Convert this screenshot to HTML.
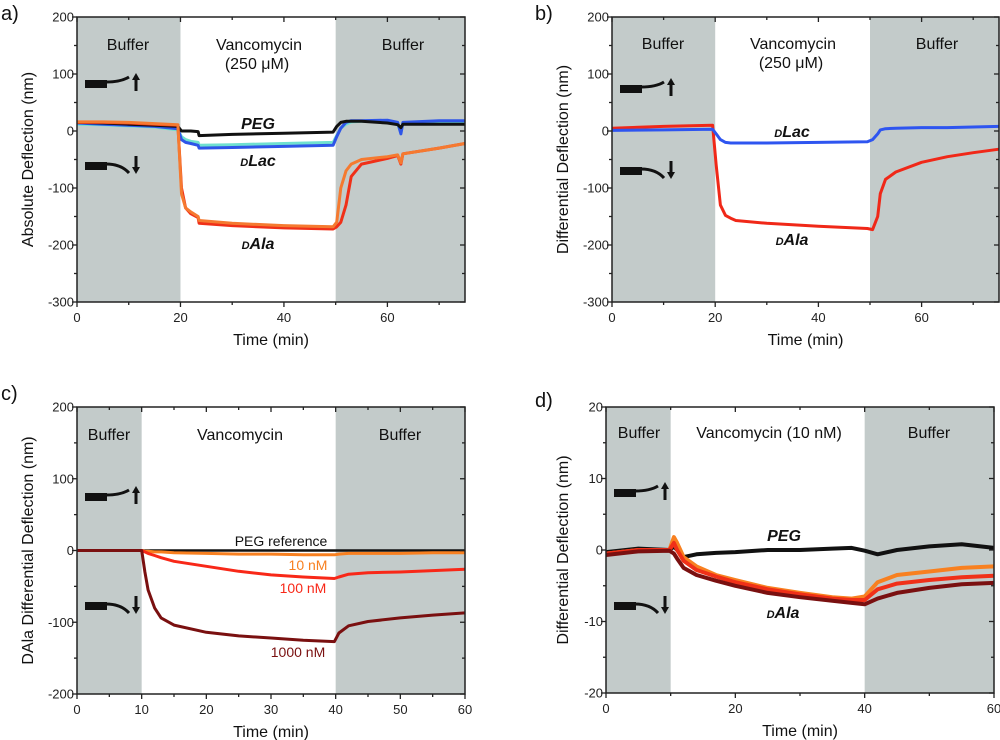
<!DOCTYPE html>
<html><head><meta charset="utf-8"><style>
html,body{margin:0;padding:0;background:#fff}
svg{display:block;font-family:"Liberation Sans",sans-serif}
</style></head><body>
<svg id="fig" width="1000" height="740" viewBox="0 0 1000 740"></svg>
<script>
// ---- data arrays ----
const aTimes=[0,5,10,15,19.5,20.2,21,22,23.4,23.6,30,40,49.5,50.2,51,52,53,55,60,62,62.6,63,70,75];
const aPEG=[15,14,12,10,8,0,0,0,-1,-8,-6,-4,-2,8,15,17,17,17,14,11,6,12,12,12];
const aLacBlue=[14,12,10,8,4,-15,-20,-22,-25,-30,-29,-27,-25,-10,5,15,18,18,19,15,-5,15,18,18];
const aLacCyan=[12,11,9,7,2,-10,-15,-18,-20,-25,-24,-22,-20,-8,5,12,16,17,17,12,-3,14,15,15];
const aAlaRed=[15,15,14,12,10,-100,-135,-145,-152,-162,-166,-170,-172,-168,-160,-130,-80,-58,-48,-43,-58,-40,-30,-22];
const aAlaOrange=[16,16,15,13,11,-110,-135,-142,-150,-157,-162,-166,-168,-160,-100,-70,-58,-50,-45,-42,-56,-40,-30,-22];
const bTimes=[0,10,19.5,20.2,21,22,23,24,30,40,49.5,50.5,51.5,52,53,55,60,65,70,75];
const bLac=[1,2,3,-5,-15,-20,-21,-21,-21,-20,-19,-15,-5,2,4,5,6,6,7,8];
const bAla=[5,8,10,-60,-130,-148,-153,-157,-162,-167,-171,-173,-150,-110,-85,-72,-55,-45,-38,-32];
const cTimes=[0,5,9.5,10,10.5,11,12,13,15,20,25,30,35,39.8,40.5,42,45,50,55,60];
const cPEG=[0,0,0,0,0,0,0,0,0,0,0,0,0,0,0,0,0,0,0,0];
const c10=[0,0,0,0,-1,-1,-2,-2,-3,-4,-5,-5,-6,-6,-5,-4,-4,-4,-3,-3];
const c100=[0,0,0,0,-2,-4,-7,-10,-15,-22,-29,-34,-37,-39,-37,-33,-31,-30,-28,-26];
const c1000=[0,0,0,0,-30,-55,-80,-94,-104,-114,-119,-122,-125,-127,-115,-105,-99,-94,-90,-87];
const dTimes=[0,5,9.8,10.5,11,12,14,17,20,25,30,35,38,40,42,45,50,55,60];
const dPEG=[-0.3,0.2,0,0.5,0,-1,-0.6,-0.4,-0.3,0,0,0.2,0.3,-0.1,-0.6,0,0.5,0.8,0.3];
const dOrange=[-0.5,0,0,1.8,1,-1,-2.3,-3.5,-4.2,-5.3,-6,-6.6,-6.8,-6.5,-4.5,-3.5,-3,-2.5,-2.3];
const dRed=[-0.5,0,0,1.0,0,-1.5,-2.8,-3.7,-4.5,-5.5,-6.2,-6.8,-7,-7,-5.5,-4.7,-4.2,-3.8,-3.6];
const dDark=[-0.7,-0.2,-0.1,-0.5,-1.2,-2.5,-3.5,-4.3,-5,-6,-6.6,-7.1,-7.4,-7.6,-6.8,-6,-5.3,-4.8,-4.6];
const abYTicks=[200,100,0,-100,-200,-300];
const abXTicks=[0,20,40,60];
const cXTicks=[0,10,20,30,40,50,60];
const cYTicks=[200,100,0,-100,-200];
const dXTicks=[0,20,40,60];
const dYTicks=[20,10,0,-10,-20];

const NS="http://www.w3.org/2000/svg";
const svg=document.getElementById('fig');
function el(tag,attrs,parent,text){const e=document.createElementNS(NS,tag);for(const k in attrs)e.setAttribute(k,attrs[k]);if(text!==undefined)e.textContent=text;(parent||svg).appendChild(e);return e;}

function panel(p){
  const g=el('g',{});
  
  
  const sx=v=>p.x0+(v-p.xmin)/(p.xmax-p.xmin)*(p.x1-p.x0);
  const sy=v=>p.y1-(v-p.ymin)/(p.ymax-p.ymin)*(p.y1-p.y0);
  p.shade.forEach((s,i)=>{
    const r=el('rect',{x:sx(s[0]),y:p.y0,width:sx(s[1])-sx(s[0]),height:p.y1-p.y0,fill:'#c3cbca'},g);
    
    
  });
  p.series.forEach(s=>{
    const pts=s.t.map((t,i)=>sx(t).toFixed(1)+','+sy(s.v[i]).toFixed(1)).join(' ');
    const l=el('polyline',{points:pts,fill:'none',stroke:s.c,'stroke-width':s.w||p.sw||3,'stroke-linejoin':'round'},g);
    
    
  });
  const f=el('rect',{x:p.x0,y:p.y0,width:p.x1-p.x0,height:p.y1-p.y0,fill:'none',stroke:'#222','stroke-width':1.5},g);
  
  
  const ax=el('g',{stroke:'#222','stroke-width':1.3},g);
  for(let v=p.xmin;v<=p.xmax+1e-9;v+=p.xminor){
    const major=p.xt.includes(v);const L=major?5:3;
    el('line',{x1:sx(v),x2:sx(v),y1:p.y1,y2:p.y1+L},ax);
    el('line',{x1:sx(v),x2:sx(v),y1:p.y0,y2:p.y0+L},ax);
  }
  for(let v=p.ymin;v<=p.ymax+1e-9;v+=p.yminor){
    const major=p.yt.includes(v);const L=major?5:3;
    el('line',{x1:p.x0-L,x2:p.x0,y1:sy(v),y2:sy(v)},ax);
    el('line',{x1:p.x1-L,x2:p.x1,y1:sy(v),y2:sy(v)},ax);
  }
  p.xt.forEach(v=>{const t=el('text',{x:sx(v),y:p.y1+20,'font-size':13,'text-anchor':'middle',fill:'#222'},g,String(v));
    });
  p.yt.forEach(v=>{const t=el('text',{x:p.x0-3,y:sy(v)+4.5,'font-size':13,'text-anchor':'end',fill:'#222'},g,String(v));
    });
  const xt=el('text',{x:(p.x0+p.x1)/2,y:p.y1+43,'font-size':16,'text-anchor':'middle',fill:'#111'},g,'Time (min)');
  
  const yt=el('text',{x:0,y:0,'font-size':16,'text-anchor':'middle',fill:'#111',transform:`translate(${p.ytx},${(p.y0+p.y1)/2}) rotate(-90)`},g,p.ytitle);
  
  const pl=el('text',{x:p.lx,y:p.ly,'font-size':20,fill:'#111'},g,p.id+')');
  
  [[p.upY,-1],[p.dnY,1]].forEach(([cy,dir])=>{
    const ig=el('g',{},g);
    
    
    const x=p.x0+8;
    el('rect',{x:x,y:cy-4,width:22,height:8,fill:'#111'},ig);
    el('path',{d:`M${x+21} ${cy-2} Q${x+36} ${cy-2} ${x+44} ${cy+dir*7}`,fill:'none',stroke:'#111','stroke-width':3},ig);
    const ax2=x+51;
    if(dir<0){el('line',{x1:ax2,x2:ax2,y1:cy+7,y2:cy-5,stroke:'#111','stroke-width':3},ig);
      el('path',{d:`M${ax2-4} ${cy-4} L${ax2} ${cy-11} L${ax2+4} ${cy-4}Z`,fill:'#111'},ig);}
    else{el('line',{x1:ax2,x2:ax2,y1:cy-10,y2:cy+2,stroke:'#111','stroke-width':3},ig);
      el('path',{d:`M${ax2-4} ${cy+1} L${ax2} ${cy+8} L${ax2+4} ${cy+1}Z`,fill:'#111'},ig);}
  });
  p.labels.forEach(L=>{
    const t=el('text',{x:L.x,y:L.y,'font-size':L.s||16,'text-anchor':'middle',fill:L.c||'#111','font-weight':L.b?'bold':'normal','font-style':L.i?'italic':'normal'},g);
    
    
    if(L.sub){el('tspan',{'font-size':11},t,L.sub);el('tspan',{},t,L.t);}else t.textContent=L.t;
  });
}

panel({id:'a',x0:77,x1:465,y0:17,y1:302,xmin:0,xmax:75,ymin:-300,ymax:200,xminor:10,yminor:50,xt:abXTicks,yt:abYTicks,
  shade:[[0,20],[50,75]],ytx:33,ytitle:'Absolute Deflection (nm)',lx:1,ly:20,upY:84,dnY:166,
  series:[{t:aTimes,v:aLacCyan,c:'#6fe0d0',name:'dlac-cyan-series'},{t:aTimes,v:aLacBlue,c:'#2e55e8',name:'dlac-blue-series'},
    {t:aTimes,v:aPEG,c:'#111',name:'peg-series'},{t:aTimes,v:aAlaRed,c:'#f03018',name:'dala-red-series'},{t:aTimes,v:aAlaOrange,c:'#f57a30',name:'dala-orange-series'}],
  labels:[{x:128,y:50,t:'Buffer',n:'buffer-label'},{x:259,y:50,t:'Vancomycin',n:'vancomycin-label'},{x:257,y:69,t:'(250 μM)',n:'concentration-label'},
    {x:403,y:50,t:'Buffer',n:'buffer-label'},{x:258,y:129,t:'PEG',b:1,i:1,n:'peg-label'},{x:258,y:166,t:'Lac',sub:'D',b:1,i:1,n:'dlac-label'},
    {x:258,y:249,t:'Ala',sub:'D',b:1,i:1,n:'dala-label'}]});

panel({id:'b',x0:612,x1:999,y0:17,y1:302,xmin:0,xmax:75,ymin:-300,ymax:200,xminor:10,yminor:50,xt:abXTicks,yt:abYTicks,
  shade:[[0,20],[50,75]],ytx:568,ytitle:'Differential Deflection (nm)',lx:535,ly:20,upY:89,dnY:171,
  series:[{t:bTimes,v:bAla,c:'#f02818',name:'dala-series'},{t:bTimes,v:bLac,c:'#2e55f0',name:'dlac-series'}],
  labels:[{x:663,y:49,t:'Buffer',n:'buffer-label'},{x:793,y:49,t:'Vancomycin',n:'vancomycin-label'},{x:791,y:68,t:'(250 μM)',n:'concentration-label'},
    {x:937,y:49,t:'Buffer',n:'buffer-label'},{x:792,y:137,t:'Lac',sub:'D',b:1,i:1,n:'dlac-label'},{x:792,y:245,t:'Ala',sub:'D',b:1,i:1,n:'dala-label'}]});

panel({id:'c',x0:77,x1:465,y0:407,y1:694,xmin:0,xmax:60,ymin:-200,ymax:200,xminor:5,yminor:50,xt:cXTicks,yt:cYTicks,
  shade:[[0,10],[40,60]],ytx:33,ytitle:'DAla Differential Deflection (nm)',lx:1,ly:400,upY:497,dnY:606,
  series:[{t:cTimes,v:cPEG,c:'#111',name:'peg-reference-series',w:2.5},{t:cTimes,v:c10,c:'#f88020',name:'10nm-series'},
    {t:cTimes,v:c100,c:'#f82818',name:'100nm-series'},{t:cTimes,v:c1000,c:'#7a1010',name:'1000nm-series'}],
  labels:[{x:109,y:440,t:'Buffer',n:'buffer-label'},{x:240,y:440,t:'Vancomycin',n:'vancomycin-label'},{x:400,y:440,t:'Buffer',n:'buffer-label'},
    {x:281,y:546,t:'PEG reference',s:14,n:'peg-reference-label'},{x:308,y:570,t:'10 nM',s:14,c:'#f88020',n:'10nm-label'},
    {x:303,y:593,t:'100 nM',s:14,c:'#f82818',n:'100nm-label'},{x:298,y:657,t:'1000 nM',s:14,c:'#7a1010',n:'1000nm-label'}]});

panel({id:'d',x0:606,x1:994,y0:407,y1:693,xmin:0,xmax:60,ymin:-20,ymax:20,xminor:10,yminor:5,xt:dXTicks,yt:dYTicks,sw:4,
  shade:[[0,10],[40,60]],ytx:568,ytitle:'Differential Deflection (nm)',lx:535,ly:407,upY:493,dnY:606,
  series:[{t:dTimes,v:dPEG,c:'#111',name:'peg-series'},{t:dTimes,v:dOrange,c:'#f88020',name:'dala-orange-series'},
    {t:dTimes,v:dRed,c:'#f03018',name:'dala-red-series'},{t:dTimes,v:dDark,c:'#7a1010',name:'dala-darkred-series'}],
  labels:[{x:639,y:438,t:'Buffer',n:'buffer-label'},{x:769,y:438,t:'Vancomycin (10 nM)',n:'vancomycin-label'},{x:929,y:438,t:'Buffer',n:'buffer-label'},
    {x:784,y:541,t:'PEG',b:1,i:1,n:'peg-label'},{x:783,y:618,t:'Ala',sub:'D',b:1,i:1,n:'dala-label'}]});
</script>
</body></html>
